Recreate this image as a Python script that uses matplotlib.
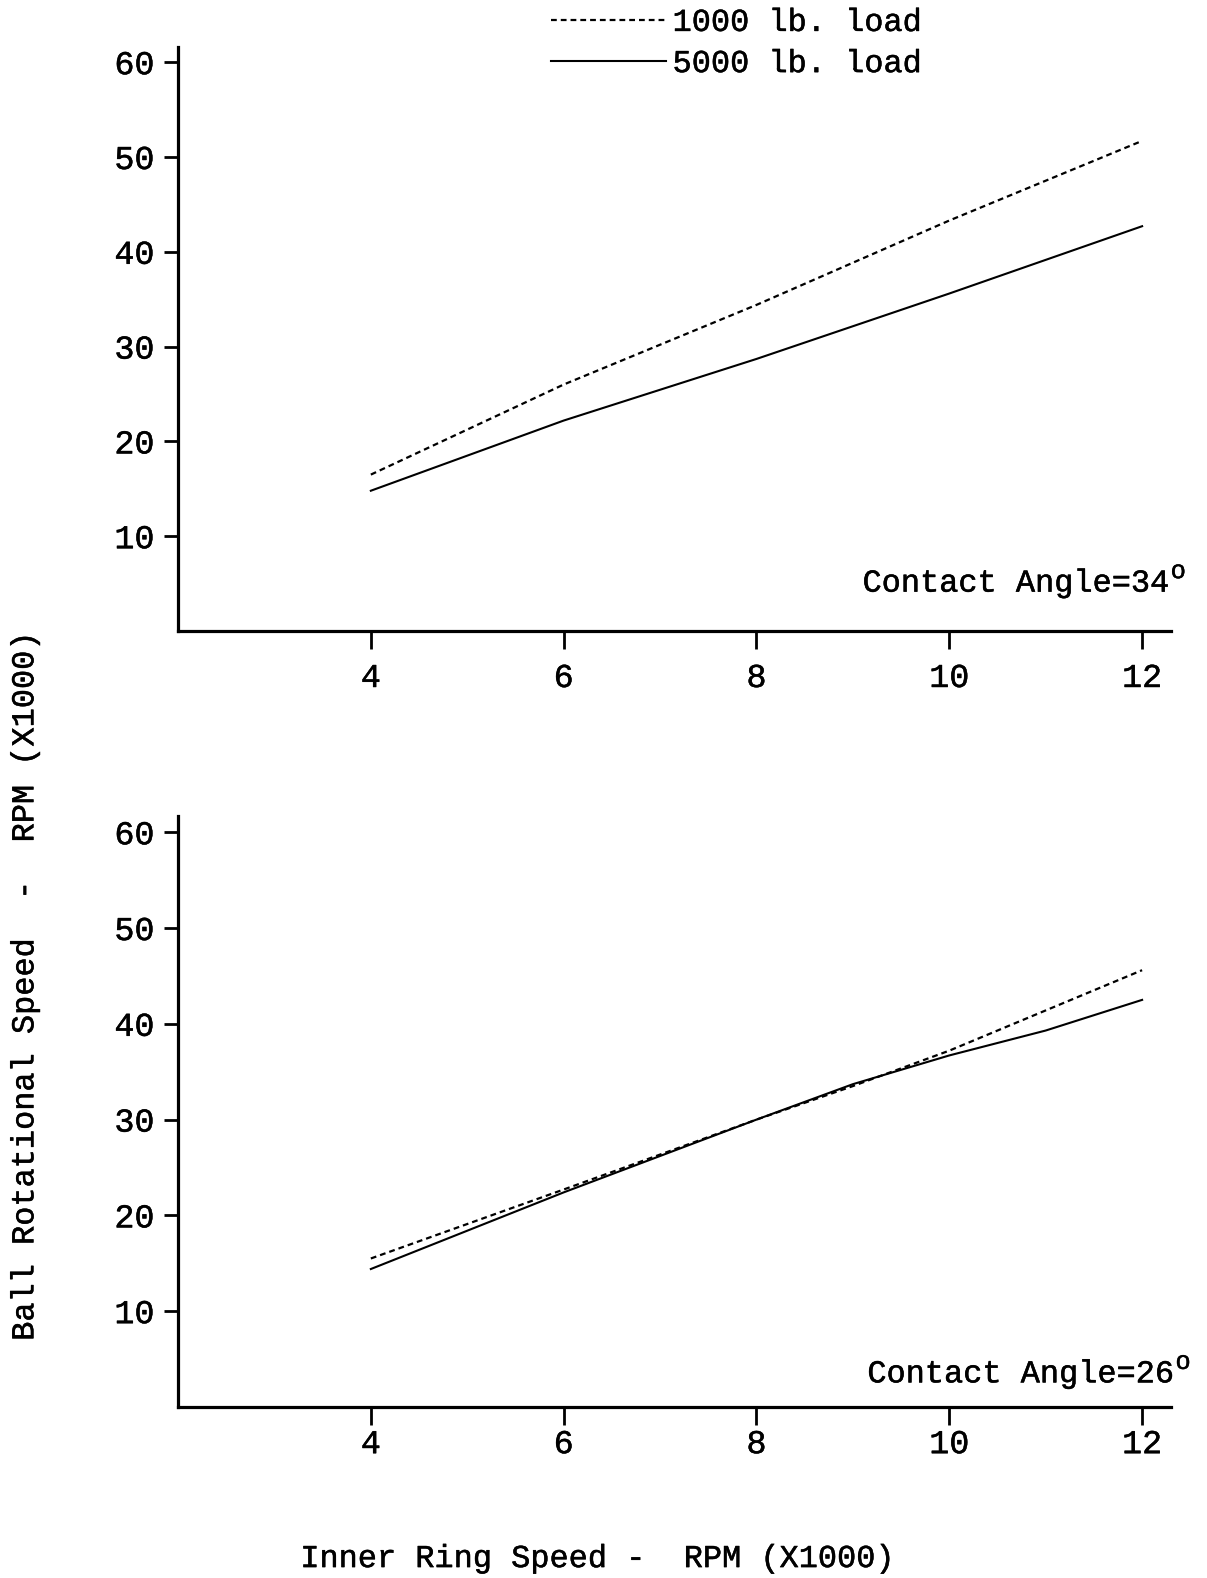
import matplotlib
matplotlib.use('Agg')
import matplotlib.pyplot as plt
import matplotlib.patheffects as pe
from matplotlib.text import Text

# data (RPM x1000)
inner_speed = [4, 6, 8, 10, 12]

# contact angle 34 deg
top_1000lb = [16.5, 26.0, 34.4, 43.3, 51.7]
top_5000lb = [14.8, 22.2, 28.7, 35.6, 42.7]

# contact angle 26 deg (slight bend near 9-11)
inner_speed_26 = [4, 6, 8, 9, 10, 11, 12]
bot_1000lb = [15.5, 22.7, 30.0, 33.5, 37.2, 41.4, 45.6]
bot_5000lb = [14.4, 22.4, 30.0, 33.7, 36.7, 39.3, 42.5]

xticks = [4, 6, 8, 10, 12]
yticks = [10, 20, 30, 40, 50, 60]

FONT = 'Liberation Mono'
FS = 23
plt.rcParams['font.family'] = [FONT, 'DejaVu Sans']

fig = plt.figure(figsize=(12.07, 15.78), dpi=100)
ax_top = fig.add_axes([0.1475, 0.6001, 0.8227, 0.3701])
ax_bot = fig.add_axes([0.1475, 0.1084, 0.8227, 0.3745])

dash = (0, (2.6, 1.8))

def style_axes(ax, ytop, xpad):
    ax.set_xlim(2, 12.3)
    ax.set_ylim(0, ytop)
    for s in ['top', 'right']:
        ax.spines[s].set_visible(False)
    for s in ['left', 'bottom']:
        ax.spines[s].set_linewidth(2.3)
    ax.set_xticks(xticks)
    ax.set_yticks(yticks)
    ax.tick_params(axis='y', direction='out', length=10, width=2, pad=7, labelsize=24)
    ax.tick_params(axis='x', direction='out', length=13, width=2, pad=xpad, labelsize=24)

def angle_label(ax, x, y, txt):
    ax.text(x, y, txt, fontsize=FS, ha='left', va='center')
    # raised "o" after the number, like the typed degree sign
    ax.annotate('o', xy=(x, y), xytext=(len(txt) * 0.6 * FS + 1, 9),
                textcoords='offset points', fontsize=FS * 0.8,
                ha='left', va='center')

ax_top.plot(inner_speed, top_1000lb, color='black', lw=1.6, linestyle=dash,
            label='1000 lb. load')
ax_top.plot(inner_speed, top_5000lb, color='black', lw=1.5, label='5000 lb. load')
style_axes(ax_top, 61.6, 10)
angle_label(ax_top, 9.1, 5.0, 'Contact Angle=34')

ax_bot.plot(inner_speed_26, bot_1000lb, color='black', lw=1.6, linestyle=dash)
ax_bot.plot(inner_speed_26, bot_5000lb, color='black', lw=1.5)
style_axes(ax_bot, 61.7, 3)
angle_label(ax_bot, 9.15, 3.4, 'Contact Angle=26')

handles, labels = ax_top.get_legend_handles_labels()
fig.legend(handles, labels, loc='upper left', bbox_to_anchor=(548 / 1207, 0.997),
           frameon=False, fontsize=FS, handlelength=3.6, handletextpad=0.2,
           labelspacing=0.35, borderpad=0.1, borderaxespad=0)

fig.text(0.021, 0.376, 'Ball Rotational Speed  -  RPM (X1000)', rotation=90,
         fontsize=FS, ha='center', va='center')
fig.text(0.496, 0.012, 'Inner Ring Speed -  RPM (X1000)', fontsize=FS,
         ha='center', va='center')

# typewritten look: slightly heavier strokes on text only
for t in fig.findobj(Text):
    t.set_path_effects([pe.withStroke(linewidth=0.35, foreground='black')])

fig.savefig('out.png', dpi=100)
